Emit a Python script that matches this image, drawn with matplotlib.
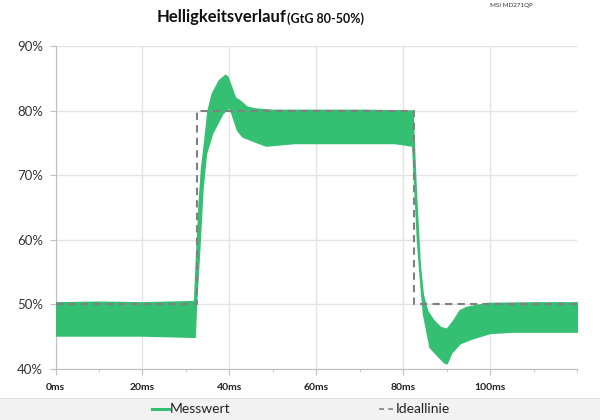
import matplotlib
matplotlib.use("Agg")
import matplotlib.pyplot as plt
from matplotlib.lines import Line2D
from matplotlib.patches import Rectangle
from matplotlib.ticker import MultipleLocator, FuncFormatter
import numpy as np

plt.rcParams['font.family'] = ['Lato', 'DejaVu Sans']

upper_t = [0, 10, 20, 31.9, 32.4, 33.0, 33.5, 34.2, 35.0, 36.0, 37.6, 39.0, 39.5, 40.5,
           41.3, 42.3, 44, 46, 50, 60, 70, 82.1, 82.4, 83.0, 83.8, 84.5, 85.5, 86.9,
           88.5, 90, 91.5, 93, 94.6, 99.2, 110, 120]
upper_v = [50.3, 50.4, 50.3, 50.5, 58, 66, 71, 75, 80, 82.7, 84.7, 85.5, 85.3, 83.5,
           82, 81.6, 80.6, 80.3, 80.1, 80.1, 80.1, 80.0, 75, 66, 56, 51.5, 49, 47.6,
           46.5, 46.2, 47.5, 49.1, 49.6, 50.2, 50.3, 50.3]
lower_t = [0, 10, 20, 32.0, 32.3, 33.0, 33.8, 34.6, 36.0, 38.4, 40.0, 40.8, 41.8, 43,
           46, 48.4, 55, 62, 70, 78, 82.1, 82.6, 83.2, 84.0, 84.6, 86.1, 88, 89.5, 90,
           91, 93, 96, 100, 105, 120]
lower_v = [45.2, 45.2, 45.2, 45.0, 50, 58, 68, 73.4, 76.5, 79.6, 80.6, 79, 77, 76,
           75.2, 74.6, 75, 75, 75, 75, 74.6, 68, 60, 53, 48.5, 43.4, 42, 41, 40.9,
           42.5, 44, 44.8, 45.6, 45.8, 45.8]

# Ideal line (Ideallinie)
ideal_t = [0, 32.6, 32.6, 82.5, 82.5, 120]
ideal_v = [50, 50, 80, 80, 50, 50]

x_ticks = [0, 20, 40, 60, 80, 100]
y_ticks = [40, 50, 60, 70, 80, 90]

grid_t = np.union1d(upper_t, lower_t)
up = np.interp(grid_t, upper_t, upper_v)
lo = np.interp(grid_t, lower_t, lower_v)

green = '#35bf73'
fig = plt.figure(figsize=(6, 4.2), dpi=100)
fig.patch.set_facecolor('white')
ax = fig.add_axes([55.5/600, 1-369/420, (577-55.5)/600, (369-46)/420])

ax.fill_between(grid_t, lo, up, color=green, linewidth=1.2, edgecolor=green, zorder=3)
ax.plot(ideal_t, ideal_v, color='#808080', linestyle=(0, (3.5, 2.5)), linewidth=1.5, zorder=4)

ax.set_xlim(0, 120)
ax.set_ylim(40, 90)
ax.set_xticks(x_ticks)
ax.xaxis.set_minor_locator(MultipleLocator(10))
ax.set_yticks(y_ticks)
ax.xaxis.set_major_formatter(FuncFormatter(lambda v, p: f"{int(v)}ms"))
ax.yaxis.set_major_formatter(FuncFormatter(lambda v, p: f"{int(v)}%"))
ax.grid(True, which='major', color='#e3e3e3', linewidth=1.0, zorder=0)
ax.set_axisbelow(True)
for s in ['top', 'right']:
    ax.spines[s].set_visible(False)
for s in ['left', 'bottom']:
    ax.spines[s].set_color('#bfbfbf')
ax.tick_params(axis='x', which='major', length=4, color='#bfbfbf', labelsize=7.5,
               labelcolor='#222222', pad=6)
ax.tick_params(axis='x', which='minor', length=2, color='#bfbfbf')
ax.tick_params(axis='y', length=4, color='#bfbfbf', labelsize=9.5, labelcolor='#333333', pad=5)
for lbl in ax.get_xticklabels():
    lbl.set_fontweight('bold')

# Title
fig.text(286/600, 1-17/420, "Helligkeitsverlauf", ha='right', va='center',
         fontsize=12, fontweight='bold', color='#111111')
fig.text(287/600, 1-19/420, "(GtG 80-50%)", ha='left', va='center',
         fontsize=9, fontweight='bold', color='#111111')
fig.text(533/600, 1-6/420, "MSI MD271QP", ha='right', va='center',
         fontsize=4.5, color='#333333')

# Legend band
fig.patches.append(Rectangle((0, 0), 1, 1-398/420, transform=fig.transFigure,
                             facecolor='#f2f2f2', edgecolor='none', zorder=0))
fig.add_artist(Line2D([0, 1], [1-398/420]*2, transform=fig.transFigure,
                      color='#e0e0e0', linewidth=0.8))
fig.add_artist(Line2D([152/600, 169/600], [1-409/420]*2, transform=fig.transFigure,
                      color=green, linewidth=2.2))
fig.text(170/600, 1-409/420, "Messwert", ha='left', va='center', fontsize=10, color='#222222')
fig.add_artist(Line2D([379/600, 393/600], [1-409/420]*2, transform=fig.transFigure,
                      color='#808080', linewidth=1.2, linestyle=(0, (3, 2.5))))
fig.text(396/600, 1-409/420, "Ideallinie", ha='left', va='center', fontsize=10, color='#222222')

fig.savefig("out.png", dpi=100)
